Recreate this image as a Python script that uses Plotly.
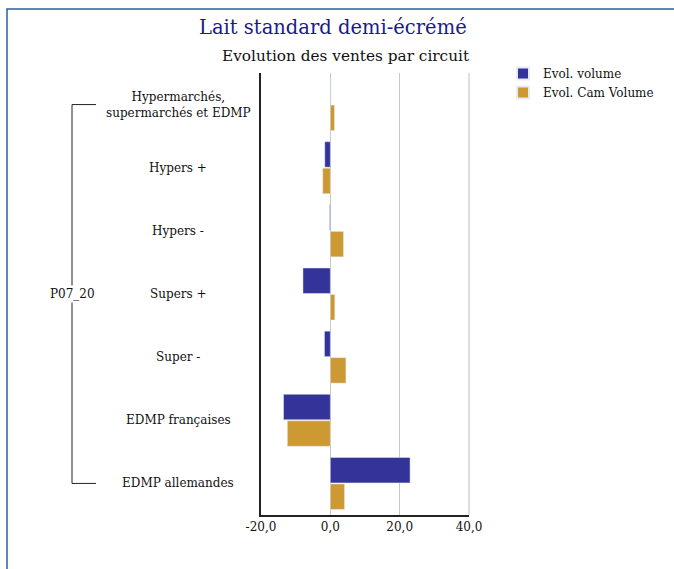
import plotly.graph_objects as go

categories = ["Hypermarchés,<br>supermarchés et EDMP", "Hypers +", "Hypers -", "Supers +",
              "Super -", "EDMP françaises", "EDMP allemandes"]
group_label = "P07_20"
evol_volume = [0.1, -1.6, -0.2, -7.9, -1.7, -13.5, 23.0]
evol_cam_volume = [1.2, -2.2, 3.8, 1.3, 4.5, -12.4, 4.1]
series_names = ["Evol. volume", "Evol. Cam Volume"]
x_ticks = [-20, 0, 20, 40]
x_tick_labels = ["-20,0", "0,0", "20,0", "40,0"]

W, H = 674, 569
L, R, T, B = 261, 674 - 469, 73, 569 - 515
pw, ph = W - L - R, H - T - B

def px_x(p):
    return (p - L) / pw

def px_y(p):
    return (H - B - p) / ph

FONT = "DejaVu Serif"

fig = go.Figure()
fig.add_trace(go.Bar(y=list(range(len(categories))), x=evol_volume, orientation="h",
                     name=series_names[0], marker_color="#333399"))
fig.add_trace(go.Bar(y=list(range(len(categories))), x=evol_cam_volume, orientation="h",
                     name=series_names[1], marker_color="#CC9933"))

for i, c in enumerate(categories):
    fig.add_annotation(x=px_x(178), xref="paper", y=i, yref="y", text=c, showarrow=False,
                       xanchor="center", yanchor="middle", align="center",
                       font=dict(family=FONT, size=12, color="#111"))

# bracket for group
bx, bx2 = px_x(72), px_x(96)
n = len(categories)
fig.add_shape(type="line", xref="paper", yref="y", x0=bx, x1=bx, y0=0, y1=n - 1,
              line=dict(color="#222", width=1))
fig.add_shape(type="line", xref="paper", yref="y", x0=bx, x1=bx2, y0=0, y1=0,
              line=dict(color="#222", width=1))
fig.add_shape(type="line", xref="paper", yref="y", x0=bx, x1=bx2, y0=n - 1, y1=n - 1,
              line=dict(color="#222", width=1))
fig.add_annotation(x=bx, xref="paper", y=3, yref="y", text=group_label, showarrow=False,
                   xanchor="center", yanchor="middle", bgcolor="white",
                   font=dict(family=FONT, size=12, color="#111"))

# gridline at the right edge of the range (plot area right edge)
fig.add_shape(type="line", xref="paper", yref="paper", x0=1, x1=1,
              y0=0, y1=1, line=dict(color="#c8c8c8", width=1.2), layer="above")

# outer frame
fig.add_shape(type="rect", xref="paper", yref="paper", x0=px_x(7), x1=px_x(700),
              y0=px_y(600), y1=px_y(9), line=dict(color="#2E5C9E", width=1.5),
              layer="below")

fig.add_annotation(x=px_x(333), xref="paper", y=px_y(28), yref="paper",
                   text="Lait standard demi-écrémé", showarrow=False,
                   xanchor="center", yanchor="middle",
                   font=dict(family=FONT, size=19.5, color="#1a1a8c"))
fig.add_annotation(x=px_x(346), xref="paper", y=px_y(56), yref="paper",
                   text="Evolution des ventes par circuit", showarrow=False,
                   xanchor="center", yanchor="middle",
                   font=dict(family=FONT, size=15.3, color="#111"))

fig.update_layout(
    width=W, height=H, margin=dict(l=L, r=R, t=T, b=B, autoexpand=False),
    paper_bgcolor="white", plot_bgcolor="white",
    barmode="group", bargap=0.16, bargroupgap=0.04,
    font=dict(family=FONT, size=12, color="#111"),
    showlegend=True,
    legend=dict(x=px_x(503), y=px_y(59), xanchor="left", yanchor="top",
                font=dict(family=FONT, size=12, color="#111"),
                bgcolor="rgba(0,0,0,0)", tracegroupgap=0, itemsizing="constant"),
    xaxis=dict(range=[-20, 40], tickvals=x_ticks, ticktext=x_tick_labels,
               showgrid=True, gridcolor="#c8c8c8", gridwidth=1,
               zeroline=True, zerolinecolor="#c8c8c8", zerolinewidth=1,
               showline=True, linecolor="#222", linewidth=1.5,
               ticks="", tickfont=dict(family=FONT, size=12, color="#111"), fixedrange=True),
    yaxis=dict(range=[n - 0.5, -0.5], showticklabels=False, showgrid=False,
               zeroline=False, showline=True, linecolor="#222", linewidth=1.5,
               ticks="", fixedrange=True),
)

fig.write_html("out.html", config={"displayModeBar": False},
               post_script="document.body.style.margin='0';document.body.style.overflow='hidden';")
